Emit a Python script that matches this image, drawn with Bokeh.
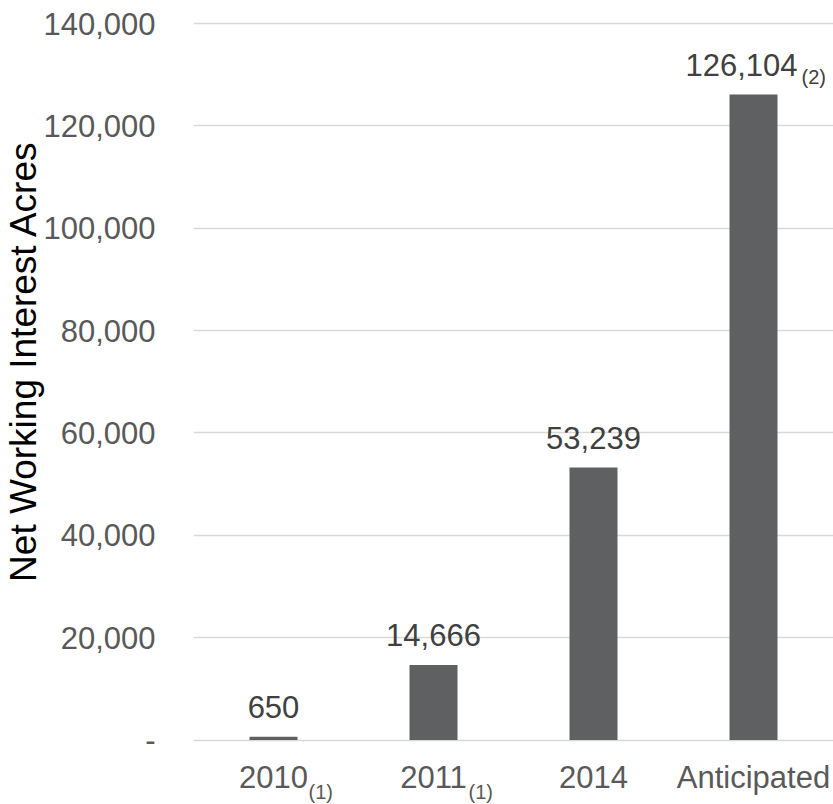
from bokeh.plotting import figure
from bokeh.models import (ColumnDataSource, LabelSet, FixedTicker, NumeralTickFormatter, Range1d, Title)
from bokeh.core.properties import value
from bokeh.embed import file_html
from bokeh.resources import INLINE

# ---- data ----
categories = ["2010", "2011", "2014", "Anticipated"]
category_notes = ["(1)", "(1)", "", ""]
acres = [650, 14666, 53239, 126104]
value_notes = ["", "", "", "(2)"]
y_ticks = [0, 20000, 40000, 60000, 80000, 100000, 120000, 140000]

FONT = value("Liberation Sans")
BAR = "#5f6062"
TICK_GRAY = "#595959"
VALUE_GRAY = "#404040"

# ---- geometry (pixels) ----
W, H = 833, 804
TOP_PX, ZERO_PX, FRAME_TOP = 23, 739.5, 18
upp = max(y_ticks) / (ZERO_PX - TOP_PX)          # data units per pixel
y_end = max(y_ticks) + (TOP_PX - FRAME_TOP) * upp
y_start = -(H - ZERO_PX) * upp                    # frame reaches canvas bottom

src = ColumnDataSource(dict(
    cat=categories,
    acres=acres,
    vtxt=[f"{v:,}" for v in acres],
    vnote=value_notes,
    cnote=category_notes,
    vshift=[-12 if n else 0 for n in value_notes],
    zero=[0] * len(categories),
))

p = figure(width=W, height=H, x_range=categories, y_range=Range1d(y_start, y_end),
           output_backend="svg", toolbar_location=None,
           min_border_left=193, min_border_right=0, min_border_top=FRAME_TOP, min_border_bottom=0)
p.outline_line_color = None
p.background_fill_color = "white"
p.border_fill_color = "white"

p.vbar(x="cat", top="acres", width=0.3, source=src, fill_color=BAR, line_color=None)

# grid
p.xgrid.grid_line_color = None
p.ygrid.grid_line_color = "#d9d9d9"
p.ygrid.grid_line_width = 1.6
p.ygrid.ticker = FixedTicker(ticks=y_ticks)

# y axis
yax = p.yaxis[0]
yax.ticker = FixedTicker(ticks=y_ticks)
yax.formatter = NumeralTickFormatter(format="0,0")
yax.major_label_overrides = {0: "-"}
yax.axis_line_color = None
yax.major_tick_line_color = None
yax.minor_tick_line_color = None
yax.major_tick_out = 0
yax.major_label_standoff = 38
yax.major_label_text_font = "Liberation Sans"
yax.major_label_text_font_size = "31px"
yax.major_label_text_color = TICK_GRAY

p.add_layout(Title(text="Net Working Interest Acres", align="right", offset=122, standoff=-6,
                   text_font="Liberation Sans", text_font_size="37px", text_font_style="normal",
                   text_line_height=1.0, text_color="#000000"), "left")

# x axis hidden; category labels drawn as label sets inside the extended frame
p.xaxis.visible = False

p.add_layout(LabelSet(x="cat", y="acres", text="vtxt", source=src, x_offset="vshift", y_offset=19,
                      text_align="center", text_baseline="alphabetic",
                      text_font=FONT, text_font_size="31px", text_color=VALUE_GRAY))
p.add_layout(LabelSet(x="cat", y="acres", text="vnote", source=src, x_offset=48, y_offset=11,
                      text_align="left", text_baseline="alphabetic",
                      text_font=FONT, text_font_size="20px", text_color=VALUE_GRAY))
p.add_layout(LabelSet(x="cat", y="zero", text="cat", source=src, y_offset=-48,
                      text_align="center", text_baseline="alphabetic",
                      text_font=FONT, text_font_size="31px", text_color=TICK_GRAY))
p.add_layout(LabelSet(x="cat", y="zero", text="cnote", source=src, x_offset=35, y_offset=-59,
                      text_align="left", text_baseline="alphabetic",
                      text_font=FONT, text_font_size="20px", text_color=TICK_GRAY))

open("out.html", "w").write(file_html(p, INLINE))
